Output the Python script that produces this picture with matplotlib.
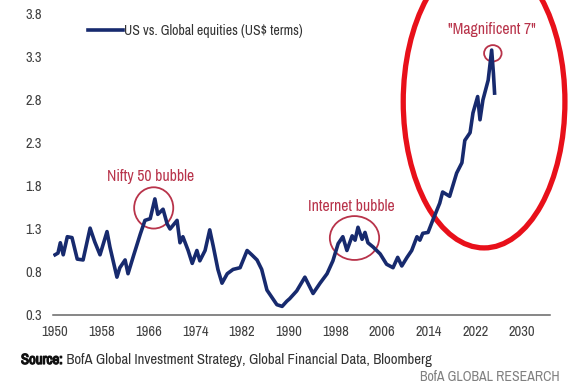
import matplotlib
matplotlib.use("Agg")
import matplotlib.pyplot as plt
from matplotlib import font_manager as fm
from matplotlib import patheffects as pe
from matplotlib.patches import Ellipse

# the original uses a narrow humanist sans; take a narrow face if one exists
names = sorted({f.name for f in fm.fontManager.ttflist})
if "Liberation Sans Narrow" in names:
    FONT = "Liberation Sans Narrow"
else:
    narrow = [n for n in names if "Narrow" in n or "Condensed" in n]
    FONT = narrow[0] if narrow else "Lato"
plt.rcParams["font.family"] = [FONT, "DejaVu Sans"]

# US vs. Global equities relative performance
years = [
    1950.0, 1950.5, 1950.9, 1951.4, 1952.1, 1952.9, 1953.8, 1954.8, 1956.0, 1956.8,
    1957.7, 1958.9, 1959.4, 1960.6, 1961.1, 1962.0, 1962.5, 1963.4, 1964.6, 1965.4,
    1966.3, 1967.1, 1967.6, 1968.5, 1969.2, 1969.7, 1970.9, 1971.4, 1971.9, 1972.8,
    1973.5, 1974.3, 1974.8, 1975.7, 1976.5, 1977.1, 1977.9, 1978.6, 1979.5, 1980.5,
    1981.7, 1982.9, 1983.7, 1984.6, 1985.4, 1986.3, 1987.2, 1988.0, 1988.9, 1989.7,
    1990.2, 1991.4, 1992.8, 1994.2, 1995.4, 1996.6, 1997.6, 1998.5, 1999.3, 2000.0,
    2000.9, 2001.4, 2001.9, 2002.6, 2003.1, 2003.6, 2004.5, 2005.7, 2006.8, 2007.9,
    2008.7, 2009.4, 2010.3, 2011.1, 2012.0, 2012.5, 2013.0, 2013.9, 2014.7, 2015.9,
    2016.4, 2017.6, 2018.8, 2019.7, 2020.2, 2021.1, 2021.6, 2022.4, 2022.8, 2023.3,
    2024.2, 2024.8, 2025.1, 2025.3,
]
ratio = [
    1.00, 1.02, 1.14, 1.00, 1.21, 1.20, 0.95, 0.94, 1.31, 1.15,
    1.00, 1.27, 1.09, 0.74, 0.85, 0.94, 0.78, 0.98, 1.24, 1.40,
    1.42, 1.65, 1.47, 1.53, 1.36, 1.30, 1.40, 1.14, 1.21, 1.05,
    0.90, 1.05, 0.93, 1.05, 1.29, 1.10, 0.83, 0.67, 0.78, 0.83,
    0.85, 1.05, 1.00, 0.94, 0.83, 0.59, 0.50, 0.42, 0.40, 0.46,
    0.49, 0.58, 0.74, 0.55, 0.67, 0.78, 0.93, 1.13, 1.21, 1.05,
    1.22, 1.17, 1.32, 1.18, 1.26, 1.14, 1.09, 1.01, 0.89, 0.85,
    0.97, 0.87, 0.97, 1.05, 1.21, 1.17, 1.25, 1.26, 1.40, 1.60,
    1.73, 1.68, 1.95, 2.07, 2.33, 2.42, 2.65, 2.84, 2.57, 2.80,
    3.03, 3.38, 3.11, 2.88,
]

x_ticks = [1950, 1958, 1966, 1974, 1982, 1990, 1998, 2006, 2014, 2022, 2030]
y_ticks = [0.3, 0.8, 1.3, 1.8, 2.3, 2.8, 3.3, 3.8]

NAVY = "#172a6e"
CRIMSON = "#b8334a"

fig = plt.figure(figsize=(5.72, 3.84), dpi=100)
ax = fig.add_axes([0.0932, 0.1797, 0.8684, 0.7839])

ax.plot(years, ratio, color=NAVY, lw=2.6, solid_joinstyle="round",
        label="US vs. Global equities (US$ terms)")

ax.set_xlim(1949.7, 2034.8)
ax.set_ylim(0.3, 3.8)
ax.set_xticks(x_ticks)
ax.set_yticks(y_ticks)
ax.set_yticklabels([f"{v:.1f}" for v in y_ticks])
ax.tick_params(length=0, labelsize=10.4, colors="#404040")
ax.tick_params(axis="x", pad=7)
ax.tick_params(axis="y", pad=8)
for s in ["top", "right", "left"]:
    ax.spines[s].set_visible(False)
ax.spines["bottom"].set_color("#666666")
ax.spines["bottom"].set_linewidth(1.1)

leg = ax.legend(loc="center left", bbox_to_anchor=(88 / 572, 1 - 30.7 / 384),
                bbox_transform=fig.transFigure, frameon=False, fontsize=10,
                handlelength=2.5, handletextpad=0.1, borderpad=0, borderaxespad=0)
for t in leg.get_texts():
    t.set_color("#333333")

# bubble annotations
ax.add_patch(Ellipse((1966.9, 1.545), 6.7, 0.48, fill=False, ec=CRIMSON, lw=1.3))
ax.text(1966.3, 1.916, "Nifty 50 bubble", color=CRIMSON, fontsize=11.3,
        ha="center", va="center")
ax.add_patch(Ellipse((2001.3, 1.195), 8.45, 0.51, fill=False, ec=CRIMSON, lw=1.3))
ax.text(2000.7, 1.556, "Internet bubble", color=CRIMSON, fontsize=11.3,
        ha="center", va="center")
ax.add_patch(Ellipse((2025.0, 3.343), 3.0, 0.19, fill=False, ec=CRIMSON, lw=1.3))
ax.text(2024.8, 3.614, "\"Magnificent 7\"", color=CRIMSON, fontsize=11.3,
        ha="center", va="center")

# big red highlight
ax.add_patch(Ellipse((2023.5, 2.78), 27.7, 3.40, fill=False, ec="#e8101a",
                     lw=3.8, clip_on=False))

# no bold narrow face installed, so thicken the glyphs with a stroke
src = fig.text(21 / 572, 1 - 360 / 384, "Source:", fontsize=10.6,
               fontweight="bold", color="#111111", va="center",
               path_effects=[pe.withStroke(linewidth=0.9, foreground="#111111")])
ax.annotate(" BofA Global Investment Strategy, Global Financial Data, Bloomberg",
            xy=(1, 0), xycoords=src, va="bottom", fontsize=10.6, color="#333333",
            annotation_clip=False)
fig.text(560 / 572, 1 - 377 / 384, "BofA GLOBAL RESEARCH", fontsize=10,
         color="#808080", ha="right", va="center")

fig.savefig("out.png", dpi=100)
